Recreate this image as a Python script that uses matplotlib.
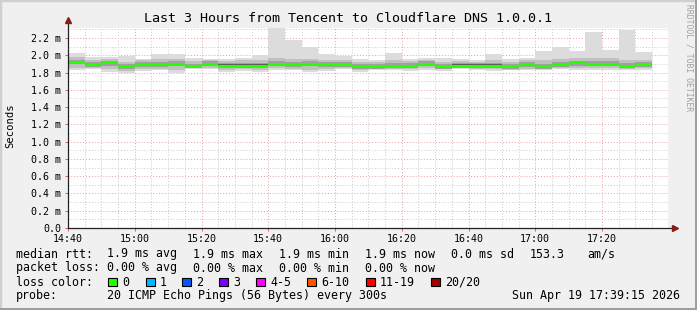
import numpy as np
import matplotlib
matplotlib.use("Agg")
import matplotlib.pyplot as plt
from matplotlib.patches import Rectangle
from matplotlib.ticker import FixedLocator, FuncFormatter

plt.rcParams['font.family'] = ['DejaVu Sans Mono']

# 5 minute steps, 14:40 .. 17:35 (minutes since midnight)
t_start = 14 * 60 + 40
step = 5

# smoke values in ms
median = [1.92, 1.89, 1.905, 1.865, 1.887, 1.888, 1.898, 1.872, 1.898, 1.879, 1.879, 1.879,
          1.900, 1.887, 1.898, 1.890, 1.887, 1.867, 1.870, 1.875, 1.875, 1.898, 1.870, 1.880,
          1.879, 1.879, 1.863, 1.890, 1.867, 1.894, 1.906, 1.898, 1.900, 1.875, 1.890]
ping_max = [2.03, 1.98, 1.98, 1.99, 1.96, 2.01, 2.01, 1.97, 1.96, 1.96, 1.97, 2.00,
            2.32, 2.18, 2.09, 2.01, 1.99, 1.96, 1.94, 2.03, 1.96, 1.97, 1.97, 1.96,
            1.94, 2.02, 1.96, 1.97, 2.05, 2.10, 2.05, 2.27, 2.06, 2.29, 2.04]
ping_min = [1.83, 1.84, 1.81, 1.80, 1.82, 1.83, 1.80, 1.84, 1.84, 1.81, 1.82, 1.81,
            1.83, 1.83, 1.81, 1.82, 1.84, 1.81, 1.83, 1.83, 1.82, 1.83, 1.82, 1.84,
            1.83, 1.82, 1.83, 1.83, 1.83, 1.84, 1.83, 1.83, 1.83, 1.83, 1.83]
p90 = [1.975, 1.945, 1.96, 1.92, 1.94, 1.955, 1.955, 1.93, 1.95, 1.935, 1.94, 1.945,
       1.97, 1.96, 1.96, 1.95, 1.945, 1.92, 1.92, 1.94, 1.93, 1.95, 1.925, 1.935,
       1.925, 1.945, 1.92, 1.945, 1.94, 1.96, 1.965, 1.97, 1.965, 1.95, 1.95]
p10 = [1.85, 1.855, 1.835, 1.82, 1.84, 1.845, 1.825, 1.85, 1.855, 1.83, 1.84, 1.83,
       1.85, 1.845, 1.83, 1.84, 1.855, 1.83, 1.845, 1.845, 1.835, 1.85, 1.835, 1.855,
       1.845, 1.84, 1.825, 1.845, 1.835, 1.855, 1.85, 1.85, 1.85, 1.84, 1.85]
p75 = [1.95, 1.92, 1.935, 1.895, 1.917, 1.918, 1.928, 1.902, 1.928, 1.909, 1.909, 1.909,
       1.93, 1.917, 1.928, 1.92, 1.917, 1.897, 1.90, 1.905, 1.905, 1.928, 1.90, 1.91,
       1.909, 1.909, 1.893, 1.92, 1.897, 1.924, 1.936, 1.928, 1.93, 1.905, 1.92]
p25 = [1.895, 1.865, 1.88, 1.84, 1.862, 1.863, 1.873, 1.847, 1.873, 1.854, 1.854, 1.854,
       1.875, 1.862, 1.873, 1.865, 1.862, 1.842, 1.845, 1.85, 1.85, 1.873, 1.845, 1.855,
       1.854, 1.854, 1.838, 1.865, 1.842, 1.869, 1.881, 1.873, 1.875, 1.85, 1.865]
p60 = [1.934, 1.904, 1.919, 1.879, 1.901, 1.902, 1.912, 1.886, 1.912, 1.893, 1.893, 1.893,
       1.914, 1.901, 1.912, 1.904, 1.901, 1.881, 1.884, 1.889, 1.889, 1.912, 1.884, 1.894,
       1.893, 1.893, 1.877, 1.904, 1.881, 1.908, 1.92, 1.912, 1.914, 1.889, 1.904]
p40 = [1.91, 1.88, 1.895, 1.855, 1.877, 1.878, 1.888, 1.862, 1.888, 1.869, 1.869, 1.869,
       1.89, 1.877, 1.888, 1.88, 1.877, 1.857, 1.86, 1.865, 1.865, 1.888, 1.86, 1.87,
       1.869, 1.869, 1.853, 1.88, 1.857, 1.884, 1.896, 1.888, 1.89, 1.865, 1.88]

loss_labels = ['0', '1', '2', '3', '4-5', '6-10', '11-19', '20/20']
loss_colors = ['#26ff00', '#00b8ff', '#0059ff', '#7e00ff', '#ff00ff', '#ff5500', '#ff0000', '#a10000']
loss_box_x = [108, 146, 182, 219, 256, 307, 366, 431]

W, H = 697, 310


def px(x, y):
    return x / W, 1 - y / H


fig = plt.figure(figsize=(W / 100, H / 100), dpi=100, facecolor='#f0f0f0')

# 3d-ish frame
fig.add_artist(Rectangle((0, 0), 1, 1, transform=fig.transFigure, fill=False,
                         edgecolor='#cfcfcf', lw=2.5))
fig.add_artist(Rectangle((0, 0), 1, 2.5 / H, transform=fig.transFigure, color='#9e9e9e', lw=0))
fig.add_artist(Rectangle(((W - 2.5) / W, 0), 2.5 / W, 1, transform=fig.transFigure,
                         color='#9e9e9e', lw=0))

y_top = 2.32
ax_left, ax_bottom = px(68, 228)
ax = fig.add_axes([ax_left, ax_bottom, 600 / W, (228 - 27.6) / H])
ax.set_facecolor('white')

n = len(median)
t = t_start + step * np.arange(n)

layers = [(ping_min, ping_max, '#dcdcdc'), (p10, p90, '#c0c0c0'),
          (p25, p75, '#a0a0a0'), (p40, p60, '#5a5a5a')]
for lo, hi, col in layers:
    lo = np.array(lo)
    hi = np.array(hi)
    ax.bar(t, hi - lo, bottom=lo, width=step, align='edge', color=col, lw=0, zorder=2)

ax.hlines(median, t, t + step, color='#26ff00', lw=1.5, zorder=3)

ax.set_xlim(t_start, t_start + 600 / 3.3375)
ax.set_ylim(0, y_top)

# grid
for v in np.arange(0.1, y_top, 0.1):
    major = round(v * 10) % 2 == 0
    ax.axhline(v, color='#e6a0a0' if major else '#c8c8c8', lw=0.7,
               ls=(0, (1, 2)), zorder=1)
for m in range(t_start + 5, int(t_start + 180), 5):
    major = (m - t_start) % 20 == 0
    ax.axvline(m, color='#e6a0a0' if major else '#c8c8c8', lw=0.7,
               ls=(0, (1, 2)), zorder=1)

xt = list(range(t_start, t_start + 180, 20))
ax.xaxis.set_major_locator(FixedLocator(xt))
ax.xaxis.set_major_formatter(FuncFormatter(lambda v, p: '%02d:%02d' % (v // 60, v % 60)))
yt = np.arange(0, 2.21, 0.2)
ax.yaxis.set_major_locator(FixedLocator(yt))
ax.yaxis.set_major_formatter(FuncFormatter(lambda v, p: '0.0' if v < 0.01 else '%.1f m' % v))
ax.tick_params(axis='both', labelsize=7.2, length=2, width=0.7, color='#e06060', pad=3)
ax.tick_params(axis='x', pad=2)

for s in ['top', 'right']:
    ax.spines[s].set_visible(False)
for s in ['left', 'bottom']:
    ax.spines[s].set_color('#222222')
    ax.spines[s].set_linewidth(0.9)
    ax.spines[s].set_zorder(4)
ax.spines['bottom'].set_bounds(t_start, t_start + 606 / 3.3375)
ax.spines['left'].set_bounds(0, y_top + 7 / 86.4)

ax.plot([1.012], [0], marker='>', ms=4.5, color='#8b1a1a', transform=ax.transAxes,
        clip_on=False, zorder=5)
ax.plot([0], [1.04], marker='^', ms=4.5, color='#8b1a1a', transform=ax.transAxes,
        clip_on=False, zorder=5)

# texts
fig.text(*px(348, 19), 'Last 3 Hours from Tencent to Cloudflare DNS 1.0.0.1',
         ha='center', va='center', fontsize=9.6)
fig.text(*px(10, 126), 'Seconds', rotation=90, ha='center', va='center', fontsize=7.6)
fig.text(*px(689, 4), 'RRDTOOL / TOBI OETIKER', rotation=270, ha='center', va='top',
         fontsize=5.8, color='#a0a0a0')

fs = 8.4
cols = [16, 107, 193, 279, 365, 451, 530, 587]
rtt_items = ['median rtt:', '1.9 ms avg', '1.9 ms max', '1.9 ms min', '1.9 ms now',
             '0.0 ms sd', '153.3', 'am/s']
for x, s in zip(cols, rtt_items):
    fig.text(*px(x, 254), s, ha='left', va='center', fontsize=fs)
loss_items = ['packet loss:', '0.00 % avg', '0.00 % max', '0.00 % min', '0.00 % now']
for x, s in zip(cols, loss_items):
    fig.text(*px(x, 268), s, ha='left', va='center', fontsize=fs)

fig.text(*px(16, 282), 'loss color:', ha='left', va='center', fontsize=fs)
for bx, lab, col in zip(loss_box_x, loss_labels, loss_colors):
    fig.add_artist(Rectangle(px(bx, 286), 8.5 / W, 8.5 / H, transform=fig.transFigure,
                             facecolor=col, edgecolor='black', lw=0.8))
    fig.text(*px(bx + 14, 282), lab, ha='left', va='center', fontsize=fs)

fig.text(*px(16, 296), 'probe:', ha='left', va='center', fontsize=fs)
fig.text(*px(107, 296), '20 ICMP Echo Pings (56 Bytes) every 300s', ha='left',
         va='center', fontsize=fs)
fig.text(*px(680, 296), 'Sun Apr 19 17:39:15 2026', ha='right', va='center', fontsize=fs)

fig.savefig('out.png', dpi=100, facecolor=fig.get_facecolor())
